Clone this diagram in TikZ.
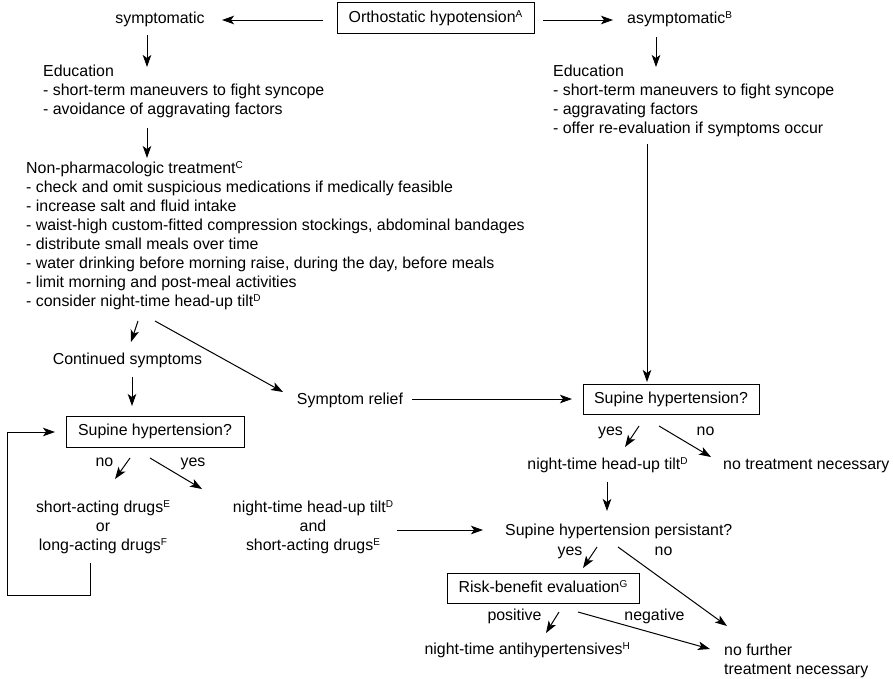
\documentclass[tikz,border=0pt]{standalone}
\usepackage{fontspec}
\setmainfont{Liberation Sans}
\usetikzlibrary{arrows.meta}
\newcommand\sps[1]{\smash{\raisebox{5pt}{\fontsize{10}{10}\selectfont #1}}}
\begin{document}
\begin{tikzpicture}[x=1pt,y=-1pt,
  font=\fontsize{15.9}{19}\selectfont,
  every node/.style={inner sep=0pt, text=black},
  txt/.style={text height=11pt,text depth=3pt},
  blk/.style={align=left},
  ctr/.style={align=center},
  boxnode/.style={draw, line width=1pt, minimum height=31pt, text height=11pt, text depth=3pt},
  arr/.style={line width=1pt, -{Stealth[length=12pt,width=8.5pt,inset=3pt]}}]
\useasboundingbox (0,0) rectangle (893,678);
% nodes
\node[boxnode, minimum width=197pt] (oh) at (435.5,18) {Orthostatic hypotension\sps{A}};
\node[txt] (sym) at (160,19) {symptomatic};
\node[txt, anchor=west] (asym) at (627,19) {asymptomatic\sps{B}};
\node[blk, anchor=north west] (edL) at (43,65) {Education\\- short-term maneuvers to fight syncope\\- avoidance of aggravating factors};
\node[blk, anchor=north west] (edR) at (553,65) {Education\\- short-term maneuvers to fight syncope\\- aggravating factors\\- offer re-evaluation if symptoms occur};
\node[blk, anchor=north west] (np) at (26,162) {Non-pharmacologic treatment\sps{C}\\- check and omit suspicious medications if medically feasible\\- increase salt and fluid intake\\- waist-high custom-fitted compression stockings, abdominal bandages\\- distribute small meals over time\\- water drinking before morning raise, during the day, before meals\\- limit morning and post-meal activities\\- consider night-time head-up tilt\sps{D}};
\node[txt] (cont) at (127.5,360) {Continued symptoms};
\node[txt] (relief) at (350,400) {Symptom relief};
\node[boxnode, minimum width=178pt] (supL) at (155,431.5) {Supine hypertension?};
\node[boxnode, minimum width=176pt, minimum height=30pt] (supR) at (671,399) {Supine hypertension?};
\node[ctr, anchor=north] (drugsL) at (103,501) {short-acting drugs\sps{E}\\or\\long-acting drugs\sps{F}};
\node[ctr, anchor=north] (drugsR) at (313,501) {night-time head-up tilt\sps{D}\\and\\short-acting drugs\sps{E}};
\node[txt] (tiltR) at (607.5,465) {night-time head-up tilt\sps{D}};
\node[txt, anchor=west] (notreat) at (723,465) {no treatment necessary};
\node[txt, anchor=west] (persist) at (505,531) {Supine hypertension persistant?};
\node[boxnode, minimum width=192pt, minimum height=30pt] (risk) at (543,588) {Risk-benefit evaluation\sps{G}};
\node[txt, anchor=east] (anti) at (630,650) {night-time antihypertensives\sps{H}};
\node[blk, anchor=north west] (nofurther) at (724,644) {no further\\treatment necessary};
% labels
\node[txt] (l1) at (104.5,462) {no};
\node[txt] (l2) at (193,462) {yes};
\node[txt] (l3) at (610.5,431) {yes};
\node[txt] (l4) at (705.5,431) {no};
\node[txt] (l5) at (570,551) {yes};
\node[txt] (l6) at (663.5,551) {no};
\node[txt] (l7) at (514.5,616) {positive};
\node[txt] (l8) at (654.5,616) {negative};
% connectors
\draw[arr] ([shift={(-112.5,2)}]oh.center) -- ([shift={(62,1)}]sym.center);
\draw[arr] ([shift={(107.5,2)}]oh.center) -- ([shift={(-14,1)}]asym.west);
\draw[arr] ([shift={(-13,16)}]sym.center) -- ([shift={(104,2)}]edL.north west);
\draw[arr] ([shift={(29,18)}]asym.west) -- ([shift={(103,2)}]edR.north west);
\draw[arr] ([shift={(104,63)}]edL.north west) -- ([shift={(121,-4)}]np.north west);
\draw[arr] ([shift={(94,79)}]edR.north west) -- ([shift={(-24,-17)}]supR.center);
\draw[arr] ([shift={(112,159)}]np.north west) -- ([shift={(3.5,-18)}]cont.center);
\draw[arr] ([shift={(129,159)}]np.north west) -- ([shift={(-67,-8)}]relief.center);
\draw[arr] ([shift={(4.5,17)}]cont.center) -- ([shift={(4.5,-25.5)}]supL.center -| cont.center);
\draw[arr] ([shift={(62,-1)}]relief.center) -- ([shift={(-99,0)}]supR.center);
\draw[arr] ([shift={(-25,26.5)}]supL.center) -- ([shift={(12,-22)}]drugsL.north);
\draw[arr] ([shift={(-5,26.5)}]supL.center) -- ([shift={(-111,-12)}]drugsR.north);
\draw[arr] ([shift={(-13,62)}]drugsL.north) -- ++(0,32) -- ++(-83,0) |- ([shift={(-100,0.5)}]supL.center);
\draw[arr] ([shift={(84,29)}]drugsR.north) -- ([shift={(-22,-1)}]persist.west);
\draw[arr] ([shift={(-32,27)}]supR.center) -- ([shift={(17.5,-18)}]tiltR.center);
\draw[arr] ([shift={(-12,27)}]supR.center) -- ([shift={(-12,-8)}]notreat.west);
\draw[arr] ([shift={(-0.5,17)}]tiltR.center) -- ([shift={(102,-20)}]persist.west);
\draw[arr] ([shift={(92,16)}]persist.west) -- ([shift={(40,-20)}]risk.center);
\draw[arr] ([shift={(113,16)}]persist.west) -- ([shift={(3,-18)}]nofurther.north west);
\draw[arr] ([shift={(16,24)}]risk.center) -- ([shift={(-84,-17)}]anti.east);
\draw[arr] ([shift={(35,24)}]risk.center) -- ([shift={(-14,5)}]nofurther.north west);
\end{tikzpicture}
\end{document}
